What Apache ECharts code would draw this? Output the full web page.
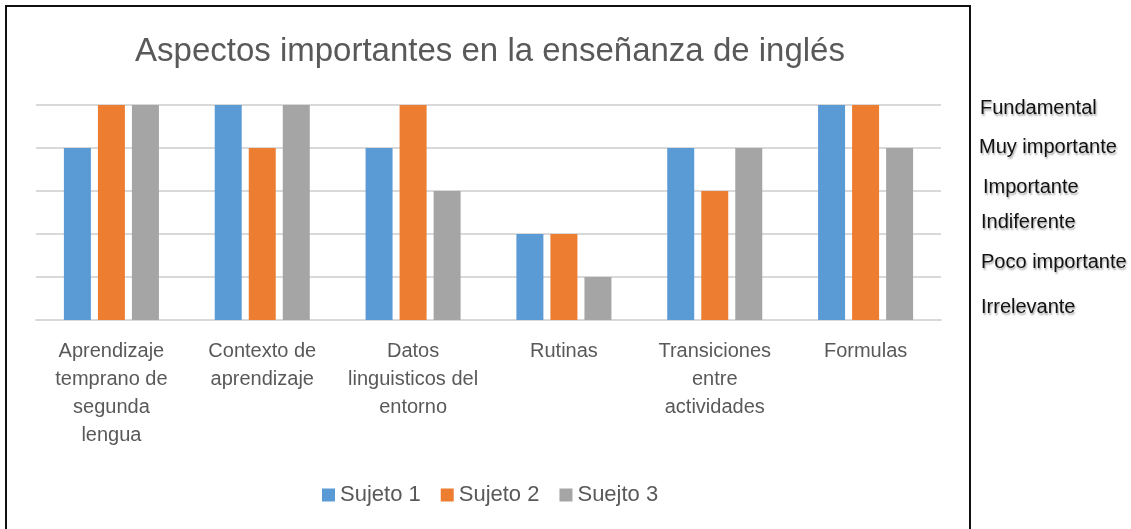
<!DOCTYPE html>
<html>
<head>
<meta charset="utf-8">
<script src="https://cdn.jsdelivr.net/npm/echarts@6/dist/echarts.min.js"></script>
<style>
html,body{margin:0;padding:0;background:#fff;}
#chart{width:1131px;height:529px;}
</style>
</head>
<body>
<div id="chart"></div>
<script>
const categories = [
  "Aprendizaje\ntemprano de\nsegunda\nlengua",
  "Contexto de\naprendizaje",
  "Datos\nlinguisticos del\nentorno",
  "Rutinas",
  "Transiciones\nentre\nactividades",
  "Formulas"
];
const seriesNames = ["Sujeto 1", "Sujeto 2", "Suejto 3"];
const sujeto1 = [4, 5, 4, 2, 4, 5];
const sujeto2 = [5, 4, 5, 2, 3, 5];
const sujeto3 = [5, 5, 3, 1, 4, 4];
const scaleLabels = ["Fundamental", "Muy importante", "Importante", "Indiferente", "Poco importante", "Irrelevante"];
const titleText = "Aspectos importantes en la enseñanza de inglés";

const FONT = "'Liberation Sans', Arial, sans-serif";
const scalePos = [[980,108],[979,147],[983,187],[981,222],[981,262],[981,307]];

const chart = echarts.init(document.getElementById('chart'), null, {renderer:'canvas'});
const graphics = [
  {type:'rect', shape:{x:6, y:6, width:964, height:540}, style:{fill:'none', stroke:'#111', lineWidth:2}, z:-1}
];
scaleLabels.forEach((t,i)=>{
  graphics.push({type:'text', x:scalePos[i][0], y:scalePos[i][1], style:{
    text:t, font:"20px " + FONT, fill:'#111', verticalAlign:'middle', align:'left',
    textShadowColor:'rgba(0,0,0,0.35)', textShadowBlur:2, textShadowOffsetX:1, textShadowOffsetY:2
  }});
});

const colors = ['#5b9bd5', '#ed7d31', '#a5a5a5'];
const values = [sujeto1, sujeto2, sujeto3];

chart.setOption({
  animation:false,
  color: colors,
  title:{
    text:titleText, left:490, top:35, textAlign:'center', padding:0,
    textStyle:{fontFamily:FONT, fontSize:33, fontWeight:'normal', color:'#595959'}
  },
  legend:{
    data:seriesNames, left:322, top:484, padding:0, itemGap:20, itemWidth:13, itemHeight:13,
    icon:'rect',
    textStyle:{fontFamily:FONT, fontSize:22, color:'#595959', padding:[0,0,0,0]}
  },
  grid:{left:36, right:190, top:105, bottom:209, containLabel:false},
  xAxis:{
    type:'category', data:categories,
    axisLine:{show:true, lineStyle:{color:'#d9d9d9', width:2}},
    axisTick:{show:false},
    axisLabel:{interval:0, margin:17, fontFamily:FONT, fontSize:20, lineHeight:28, color:'#595959', align:'center'}
  },
  yAxis:{
    type:'value', min:0, max:5, interval:1,
    axisLabel:{show:false}, axisLine:{show:false}, axisTick:{show:false},
    splitLine:{lineStyle:{color:'#d9d9d9', width:2}}
  },
  series: seriesNames.map((n,i)=>({
    name:n, type:'bar', data:values[i], barWidth:27, barGap:'26%',
    itemStyle:{color:colors[i]}
  })),
  graphic: graphics
});
</script>
</body>
</html>
